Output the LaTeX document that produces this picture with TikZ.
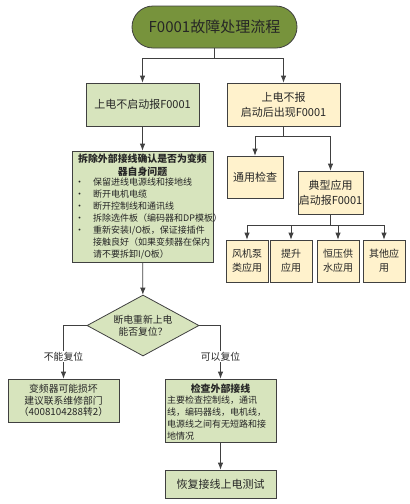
\documentclass[tikz,border=0pt]{standalone}
\usepackage{fontspec}
\setmainfont{Noto Sans CJK SC}
\usetikzlibrary{shapes.geometric,arrows.meta}
\definecolor{verde}{HTML}{D7E4BD}
\definecolor{giallo}{HTML}{FFF2CC}
\definecolor{oliva}{HTML}{77933C}
\definecolor{bordo}{HTML}{404040}
\definecolor{testo}{HTML}{262626}

\begin{document}
\begin{tikzpicture}[x=1pt,y=-1pt,font=\fontsize{11}{15}\selectfont,
  every node/.append style={text=testo},
  box/.style={draw=bordo,line width=.8pt,align=center,inner sep=0pt},
  boxv/.style={box,fill=verde},
  boxg/.style={box,fill=giallo},
  linea/.style={draw=bordo,line width=.8pt,-{Latex[length=7pt,width=5.5pt]}},
  etich/.style={fill=white,inner sep=1pt,font=\fontsize{9.8}{12}\selectfont}]

\useasboundingbox (0,0) rectangle (410,504);

\node[box,fill=oliva,rounded corners=21pt,minimum width=165pt,minimum height=42pt,
  font=\fontsize{15}{18}\selectfont] (tit) at (214.5,27) {F0001故障处理流程};

\node[boxv,minimum width=113pt,minimum height=43pt] (b1) at (142.5,104.5) {上电不启动报F0001};
\node[boxg,minimum width=113pt,minimum height=43pt] (b2) at (283.5,104.5) {上电不报\\启动后出现F0001};

% ramo sinistro
\node[boxv,minimum width=141pt,minimum height=111pt] (chk) at (142.5,206.5) {};
\node[font=\bfseries\fontsize{9.9}{13}\selectfont,align=center] (chkt) at (142.5,165.5)
  {拆除外部接线确认是否为变频\\器自身问题};
\node[anchor=west,inner sep=0pt,font=\fontsize{9}{12}\selectfont] (chkl) at (75,219) {%
  \begin{tabular}{@{}p{18pt}@{}l@{}}
  \textbullet & 保留进线电源线和接地线\\
  \textbullet & 断开电机电缆\\
  \textbullet & 断开控制线和通讯线\\
  \textbullet & 拆除选件板（编码器和DP模板）\\
  \textbullet & 重新安装I/O板，保证接插件\\
              & 接触良好（如果变频器在保内\\
              & 请不要拆卸I/O板）
  \end{tabular}};

\node[diamond,boxv,aspect=1.84,minimum width=112pt,minimum height=61pt,
  font=\fontsize{9.8}{12}\selectfont] (dom) at (143,325.5) {断电重新上电\\能否复位？};

\node[boxv,minimum width=111pt,minimum height=43pt,font=\fontsize{9.8}{11.5}\selectfont]
  (dmg) at (63.5,400.5) {变频器可能损坏\\建议联系维修部门\\（4008104288转2）};

\node[boxv,minimum width=111pt,minimum height=63pt] (ext) at (220.5,410.5) {};
\node[font=\bfseries\fontsize{9.9}{12}\selectfont] (extt) at (220.5,389) {检查外部接线};
\node[anchor=west,align=left,inner sep=0pt,font=\fontsize{9}{12}\selectfont] (extl) at (167,418)
  {主要检查控制线，通讯\\线，编码器线，电机线，\\电源线之间有无短路和接\\地情况};

\node[boxv,minimum width=111pt,minimum height=28pt] (rst) at (220.5,484) {恢复接线上电测试};

% ramo destro
\node[boxg,minimum width=56pt,minimum height=42pt] (gen) at (255,177) {通用检查};
\node[boxg,minimum width=65pt,minimum height=43pt] (typ) at (330.5,192.5) {典型应用\\启动报F0001};

\foreach \n/\x/\t in {app1/247/风机泵\\类应用,app2/291/提升\\应用,app3/338/恒压供\\水应用,app4/384/其他应\\用}
  \node[boxg,minimum width=42pt,minimum height=42pt,font=\fontsize{10}{14}\selectfont] (\n) at (\x,261) {\t};

\draw[linea] (tit.south) -- ++(0,10) -| (b1.north);
\draw[linea] (tit.south) -- ++(0,10) -| (b2.north);
\draw[linea] (b1) -- (chk);
\draw[linea] (chk) -- (dom);
\draw[linea] (dom.west) -| node[etich,pos=.79] {不能复位} (dmg.north);
\draw[linea] (dom.east) -| node[etich,pos=.79] {可以复位} (ext.north);
\draw[linea] (ext) -- (rst);

\draw[linea] (b2.south) -- ++(0,10) -| (gen.north);
\draw[linea] (b2.south) -- ++(0,10) -| (typ.north);
\foreach \n in {app1,app2,app3,app4}
  \draw[linea] (typ.south) -- ++(0,11) -| (\n.north);

\end{tikzpicture}
\end{document}
